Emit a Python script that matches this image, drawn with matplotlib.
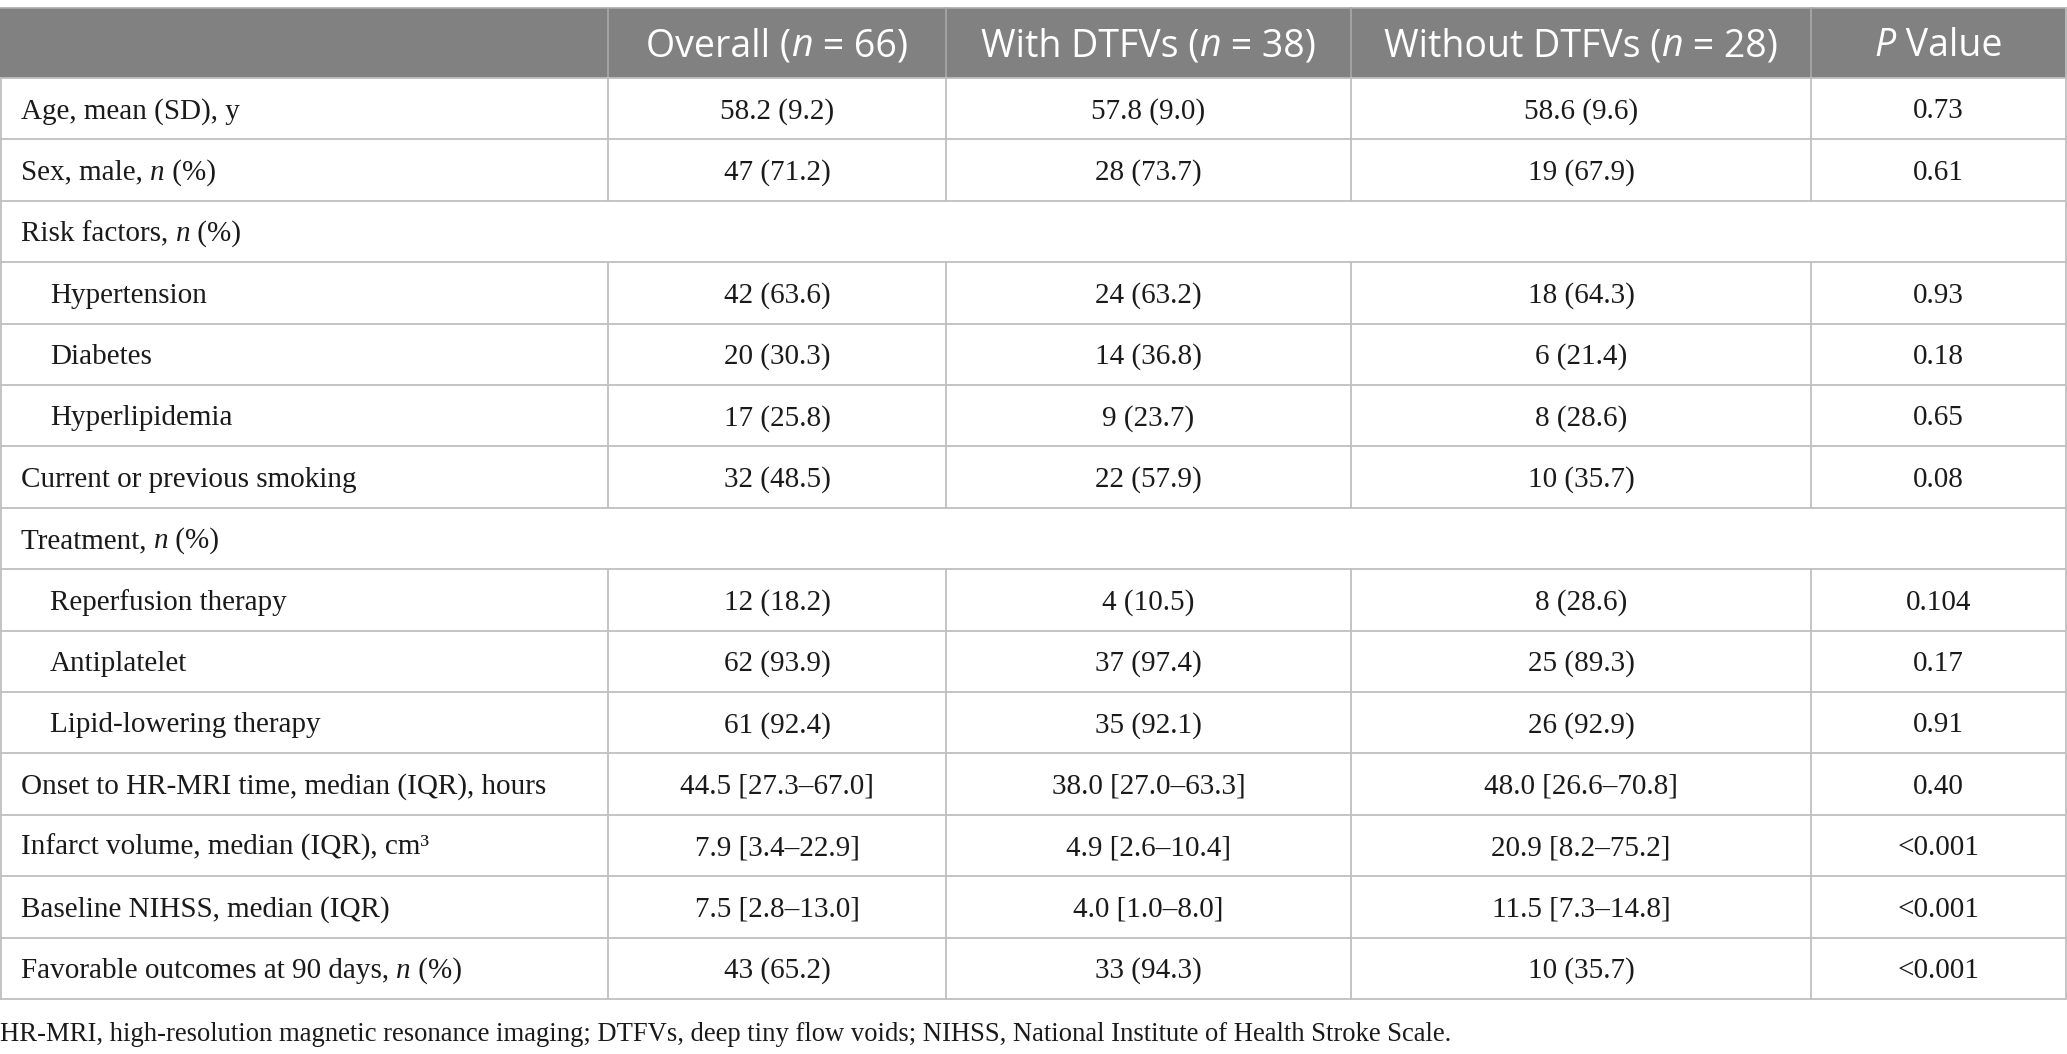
import matplotlib
matplotlib.use("Agg")
import matplotlib.pyplot as plt
from matplotlib.patches import Rectangle

# ---------------- data ----------------
header = ["", "Overall (*n* = 66)", "With DTFVs (*n* = 38)", "Without DTFVs (*n* = 28)", "*P* Value"]
row_labels = [
    "Age, mean (SD), y",
    "Sex, male, *n* (%)",
    "Risk factors, *n* (%)",
    "Hypertension",
    "Diabetes",
    "Hyperlipidemia",
    "Current or previous smoking",
    "Treatment, *n* (%)",
    "Reperfusion therapy",
    "Antiplatelet",
    "Lipid-lowering therapy",
    "Onset to HR-MRI time, median (IQR), hours",
    "Infarct volume, median (IQR), cm³",
    "Baseline NIHSS, median (IQR)",
    "Favorable outcomes at 90 days, *n* (%)",
]
indented = [0, 0, 0, 1, 1, 1, 0, 0, 1, 1, 1, 0, 0, 0, 0]
overall = ["58.2 (9.2)", "47 (71.2)", "", "42 (63.6)", "20 (30.3)", "17 (25.8)", "32 (48.5)", "",
           "12 (18.2)", "62 (93.9)", "61 (92.4)", "44.5 [27.3–67.0]", "7.9 [3.4–22.9]",
           "7.5 [2.8–13.0]", "43 (65.2)"]
with_dtfv = ["57.8 (9.0)", "28 (73.7)", "", "24 (63.2)", "14 (36.8)", "9 (23.7)", "22 (57.9)", "",
             "4 (10.5)", "37 (97.4)", "35 (92.1)", "38.0 [27.0–63.3]", "4.9 [2.6–10.4]",
             "4.0 [1.0–8.0]", "33 (94.3)"]
without_dtfv = ["58.6 (9.6)", "19 (67.9)", "", "18 (64.3)", "6 (21.4)", "8 (28.6)", "10 (35.7)", "",
                "8 (28.6)", "25 (89.3)", "26 (92.9)", "48.0 [26.6–70.8]", "20.9 [8.2–75.2]",
                "11.5 [7.3–14.8]", "10 (35.7)"]
p_values = ["0.73", "0.61", "", "0.93", "0.18", "0.65", "0.08", "", "0.104", "0.17", "0.91",
            "0.40", "<0.001", "<0.001", "<0.001"]
footnote = ("HR-MRI, high-resolution magnetic resonance imaging; DTFVs, deep tiny flow voids; "
            "NIHSS, National Institute of Health Stroke Scale.")

# ---------------- layout ----------------
W, H = 2067, 1054
DPI = 100
fig = plt.figure(figsize=(W / DPI, H / DPI), dpi=DPI)
ax = fig.add_axes([0, 0, 1, 1])
ax.set_xlim(0, W)
ax.set_ylim(H, 0)
ax.axis("off")

col_edges = [1, 608, 946, 1351, 1811, 2066]
top, head_bot = 8, 78
n_rows = len(row_labels)
row_h = (999 - head_bot) / n_rows
row_edges = [head_bot + i * row_h for i in range(n_rows + 1)]

HEAD_BG = "#808180"
LINE = "#bfbfbf"
TXT = "#1a1a1a"
SERIF = "Liberation Serif"
SANS = "Open Sans"
BODY_FS = 21
HEAD_FS = 27
FOOT_FS = 19.2

renderer = fig.canvas.get_renderer()


def parse(s):
    parts = s.split("*")
    return [(p, i % 2 == 1) for i, p in enumerate(parts) if p]


def draw_runs(x, yc, s, family, fs, color, ha="left", cap=0.66):
    runs = parse(s)
    texts = []
    widths = []
    for t, it in runs:
        tx = ax.text(0, 0, t, fontfamily=family, fontsize=fs, color=color,
                     style="italic" if it else "normal", va="baseline", ha="left")
        bb = tx.get_window_extent(renderer=renderer)
        texts.append(tx)
        widths.append(bb.width)
    total = sum(widths)
    x0 = x - total / 2 if ha == "center" else x
    base = yc + cap * fs * DPI / 72 / 2
    cur = x0
    for tx, w in zip(texts, widths):
        tx.set_position((cur, base))
        cur += w


# header background
ax.add_patch(Rectangle((0, top), W, head_bot - top, facecolor=HEAD_BG, edgecolor="none", zorder=0))
for xe in col_edges[1:-1]:
    ax.plot([xe, xe], [top, head_bot], color="#a9a9a9", lw=1.2, zorder=1)
ax.plot([0, W], [top, top], color="#a9a9a9", lw=1.2, zorder=1)

# horizontal lines
for ye in row_edges:
    ax.plot([0, W], [ye, ye], color=LINE, lw=1.3, zorder=1)
# outer verticals
ax.plot([col_edges[0], col_edges[0]], [head_bot, row_edges[-1]], color=LINE, lw=1.3)
ax.plot([col_edges[-1], col_edges[-1]], [top, row_edges[-1]], color=LINE, lw=1.3)

# row dividers (none in section rows)
for i in range(n_rows):
    if overall[i] == "":
        continue
    for xe in col_edges[1:-1]:
        ax.plot([xe, xe], [row_edges[i], row_edges[i + 1]], color=LINE, lw=1.3, zorder=1)

# header text
hc = (top + head_bot) / 2
for j in range(1, 5):
    cx = (col_edges[j] + col_edges[j + 1]) / 2
    draw_runs(cx, hc, header[j], SANS, HEAD_FS, "white", ha="center", cap=0.714)

# body
cols = [overall, with_dtfv, without_dtfv, p_values]
for i in range(n_rows):
    yc = (row_edges[i] + row_edges[i + 1]) / 2
    x = 21 + (29 if indented[i] else 0)
    draw_runs(x, yc, row_labels[i], SERIF, BODY_FS, TXT, ha="left")
    for j, col in enumerate(cols):
        if col[i]:
            cx = (col_edges[j + 1] + col_edges[j + 2]) / 2
            draw_runs(cx, yc, col[i], SERIF, BODY_FS, TXT, ha="center")

# footnote
draw_runs(0, 1032, footnote, SERIF, FOOT_FS, TXT, ha="left")

fig.savefig("out.png", dpi=DPI, facecolor="white")
